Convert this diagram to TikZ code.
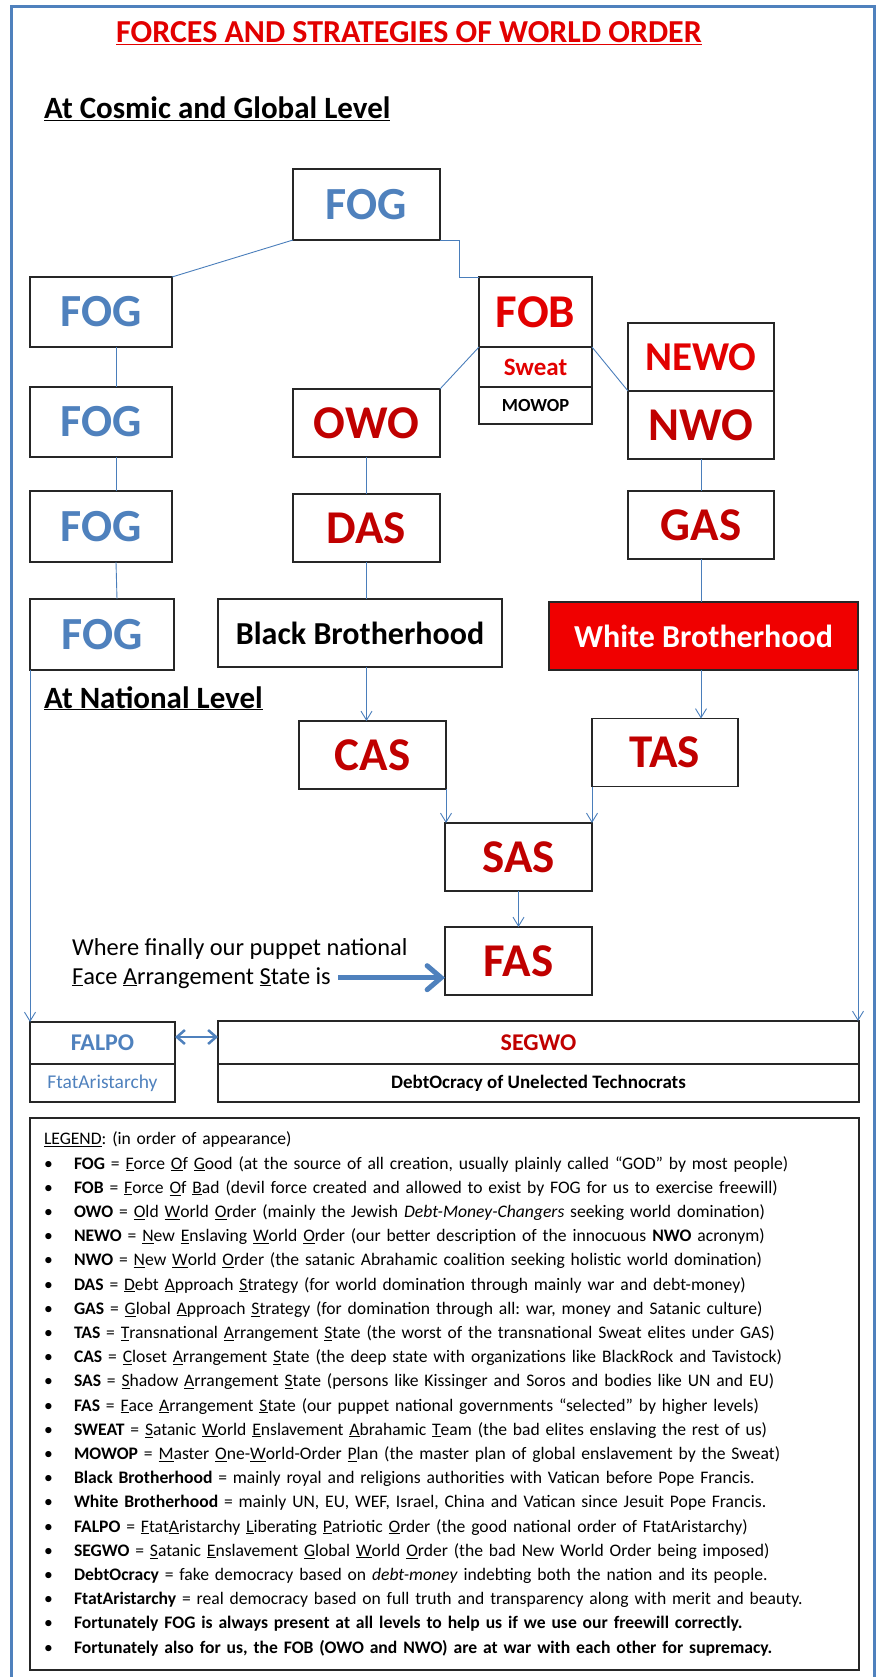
\documentclass[tikz,border=0pt]{standalone}
\usepackage{fontspec}
\setmainfont{Carlito}
\usepackage{tikz}
\usetikzlibrary{arrows.meta, positioning}

\definecolor{fogblue}{RGB}{79,129,189}
\definecolor{linkblue}{RGB}{74,126,187}
\definecolor{fobred}{RGB}{226,0,0}
\definecolor{owored}{RGB}{192,0,0}
\definecolor{wbred}{RGB}{240,0,0}

\newcommand{\legitem}{\makebox[30pt][l]{\textbullet}}

\begin{document}
\begin{tikzpicture}[
    x=1pt, y=-1pt,
    node distance=104pt,
    box/.style={rectangle, draw=black!85, line width=1.2pt, outer sep=0pt, inner sep=0pt, text centered, minimum width=147pt, minimum height=68pt, font=\bfseries\fontsize{47}{47}\selectfont},
    good/.style={box, text=fogblue, font=\bfseries\fontsize{46}{46}\selectfont},
    bad/.style={box, text=owored},
    worse/.style={box, text=fobred},
    acro/.style={font=\bfseries\fontsize{41}{41}\selectfont},
    brother/.style={box, font=\bfseries\fontsize{32}{32}\selectfont},
    stack/.style={box, minimum width=113pt},
    national/.style={box, minimum height=42pt, font=\bfseries\fontsize{24}{24}\selectfont},
    sub/.style={box, minimum height=38pt, font=\fontsize{19.5}{19.5}\selectfont},
    titletext/.style={anchor=base, inner sep=0pt, text=fobred, font=\bfseries\fontsize{32}{32}\selectfont},
    heading/.style={anchor=base west, inner sep=0pt, font=\bfseries\fontsize{31}{31}\selectfont},
    note/.style={anchor=base west, inner sep=0pt, font=\fontsize{24.4}{24.4}\selectfont},
    link/.style={draw=linkblue, line width=0.9pt},
    arrow/.style={link, -{Straight Barb[length=9pt, width=11pt]}},
    bigarrow/.style={draw=fogblue, line width=5pt, shorten <=7pt, -{Straight Barb[length=14pt, width=24pt, line cap=round]}},
    bothways/.style={draw=fogblue, line width=2.5pt, {Straight Barb[length=8pt, width=14pt]}-{Straight Barb[length=8pt, width=14pt]}},
    legendbox/.style={draw=black!85, line width=1.5pt, outer sep=0pt, text width=801pt, inner xsep=14pt, inner ysep=14pt, align=left, font=\fontsize{17.6}{24.2}\selectfont\frenchspacing}
]
\useasboundingbox (0,0) rectangle (876,1677);
\draw [draw=fogblue, line width=3pt] (11,1690) -- (11,7) -- (874,7) -- (874,1690);

% Nodes
\node (title) [titletext] at (409,43) {\underline{FORCES AND STRATEGIES OF WORLD ORDER}};
\node (cosmic) [heading] at (44,119) {\underline{At Cosmic and Global Level}};
\node (fogtop) [good, minimum height=71pt] at (366.5,204.5) {FOG};
\node (fog1) [good, minimum width=142pt, minimum height=70pt, below of=fogtop, xshift=-265.5pt, yshift=-3.5pt] {FOG};
\node (fog2) [good, minimum width=142pt, minimum height=70pt, below of=fog1, yshift=-6pt] {FOG};
\node (fog3) [good, minimum width=142pt, minimum height=71pt, below of=fog2, yshift=-0.5pt] {FOG};
\node (fog4) [good, minimum width=144pt, minimum height=71pt, below of=fog3, xshift=1pt, yshift=-4pt] {FOG};
\node (fob) [worse, stack, minimum height=70pt, below of=fogtop, xshift=169pt, yshift=-3.5pt] {FOB};
\node (sweat) [stack, text=fobred, minimum height=40pt, font=\bfseries\fontsize{25}{25}\selectfont, below=0pt of fob] {Sweat};
\node (mowop) [stack, minimum height=37pt, font=\bfseries\fontsize{18.5}{18.5}\selectfont, below=0pt of sweat] {MOWOP};
\node (newo) [worse, acro, minimum width=146pt, right of=fob, xshift=61.5pt, yshift=-45pt] {NEWO};
\node (nwo) [bad, minimum width=146pt, below=0pt of newo] {NWO};
\node (owo) [bad, below of=fogtop, yshift=-114.5pt] {OWO};
\node (das) [bad, below of=owo, yshift=-1pt] {DAS};
\node (bb) [brother, minimum width=284pt, below of=das, xshift=-6.5pt, yshift=-1pt] {Black Brotherhood};
\node (gas) [bad, minimum width=146pt, below of=nwo, yshift=4pt] {GAS};
\node (wb) [brother, fill=wbred, text=white, minimum width=309pt, below of=gas, xshift=2.5pt, yshift=-7pt] {White Brotherhood};
\node (national) [heading] at (44,708) {\underline{At National Level}};
\node (cas) [bad, below of=bb, xshift=12.5pt, yshift=-18pt] {CAS};
\node (tas) [bad, minimum width=146pt, below of=wb, xshift=-38.5pt, yshift=-12.5pt] {TAS};
\node (sas) [bad, below of=cas, xshift=146pt, yshift=2pt] {SAS};
\node (fas) [bad, below of=sas] {FAS};
\node (where) [note] at (72,955) {Where finally our puppet national};
\node (face) [note] at (72,984) {\underline{F}ace \underline{A}rrangement \underline{S}tate is};
\node (falpo) [national, text=fogblue, minimum width=145pt, below of=fog4, xshift=0.5pt, yshift=-304.5pt] {FALPO};
\node (ftat) [sub, text=fogblue, minimum width=145pt, below=0pt of falpo] {FtatAristarchy};
\node (segwo) [national, text=owored, minimum width=641pt, minimum height=43pt, right of=falpo, xshift=332pt, yshift=0.5pt] {SEGWO};
\node (debt) [sub, minimum width=641pt, font=\bfseries\fontsize{19}{19}\selectfont, below=0pt of segwo] {DebtOcracy of Unelected Technocrats};
\node (legend) [legendbox, below=16pt of ftat.south west, anchor=north west] {%
\underline{LEGEND}: (in order of appearance)\\
\legitem\textbf{FOG} = \underline{F}orce \underline{O}f \underline{G}ood (at the source of all creation, usually plainly called “GOD” by most people)\\
\legitem\textbf{FOB} = \underline{F}orce \underline{O}f \underline{B}ad (devil force created and allowed to exist by FOG for us to exercise freewill)\\
\legitem\textbf{OWO} = \underline{O}ld \underline{W}orld \underline{O}rder (mainly the Jewish \textit{Debt-Money-Changers} seeking world domination)\\
\legitem\textbf{NEWO} = \underline{N}ew \underline{E}nslaving \underline{W}orld \underline{O}rder (our better description of the innocuous \textbf{NWO} acronym)\\
\legitem\textbf{NWO} = \underline{N}ew \underline{W}orld \underline{O}rder (the satanic Abrahamic coalition seeking holistic world domination)\\
\legitem\textbf{DAS} = \underline{D}ebt \underline{A}pproach \underline{S}trategy (for world domination through mainly war and debt-money)\\
\legitem\textbf{GAS} = \underline{G}lobal \underline{A}pproach \underline{S}trategy (for domination through all: war, money and Satanic culture)\\
\legitem\textbf{TAS} = \underline{T}ransnational \underline{A}rrangement \underline{S}tate (the worst of the transnational Sweat elites under GAS)\\
\legitem\textbf{CAS} = \underline{C}loset \underline{A}rrangement \underline{S}tate (the deep state with organizations like BlackRock and Tavistock)\\
\legitem\textbf{SAS} = \underline{S}hadow \underline{A}rrangement \underline{S}tate (persons like Kissinger and Soros and bodies like UN and EU)\\
\legitem\textbf{FAS} = \underline{F}ace \underline{A}rrangement \underline{S}tate (our puppet national governments “selected” by higher levels)\\
\legitem\textbf{SWEAT} = \underline{S}atanic \underline{W}orld \underline{E}nslavement \underline{A}brahamic \underline{T}eam (the bad elites enslaving the rest of us)\\
\legitem\textbf{MOWOP} = \underline{M}aster \underline{O}ne-\underline{W}orld-Order \underline{P}lan (the master plan of global enslavement by the Sweat)\\
\legitem\textbf{Black Brotherhood} = mainly royal and religions authorities with Vatican before Pope Francis.\\
\legitem\textbf{White Brotherhood} = mainly UN, EU, WEF, Israel, China and Vatican since Jesuit Pope Francis.\\
\legitem\textbf{FALPO} = \underline{F}tat\underline{A}ristarchy \underline{L}iberating \underline{P}atriotic \underline{O}rder (the good national order of FtatAristarchy)\\
\legitem\textbf{SEGWO} = \underline{S}atanic \underline{E}nslavement \underline{G}lobal \underline{W}orld \underline{O}rder (the bad New World Order being imposed)\\
\legitem\textbf{DebtOcracy} = fake democracy based on \textit{debt-money} indebting both the nation and its people.\\
\legitem\textbf{FtatAristarchy} = real democracy based on full truth and transparency along with merit and beauty.\\
\legitem\textbf{Fortunately FOG is always present at all levels to help us if we use our freewill correctly.}\\
\legitem\textbf{Fortunately also for us, the FOB (OWO and NWO) are at war with each other for supremacy.}};

% Connectors
\draw [link] (fogtop.south west) -- (fog1.north east);
\draw [link] (fogtop.south east) -- ++(19,0) |- (fob.north west);
\draw [link] ([xshift=15pt]fog1.south) -- ([xshift=15pt]fog2.north);
\draw [link] ([xshift=15pt]fog2.south) -- ([xshift=15pt]fog3.north);
\draw [link] ([xshift=15pt]fog3.south) -- ([xshift=15pt]fog4.north);
\draw [link] (sweat.north west) -- (owo.north east);
\draw [link] (sweat.north east) -- (nwo.north west);
\draw [link] (owo) -- (das);
\draw [link] (das.south) -- (das.south |- bb.north);
\draw [link] (nwo) -- (gas);
\draw [link] (gas.south) -- (gas.south |- wb.north);
\draw [arrow] (bb.south -| das.south) -- (das.south |- cas.north);
\draw [arrow] (wb.south -| gas.south) -- (gas.south |- tas.north);
\draw [arrow] (cas.south east) -- (cas.south east |- sas.north);
\draw [arrow] (tas.south west) -- (tas.south west |- sas.north);
\draw [arrow] (sas) -- (fas);
\draw [arrow] (fog4.south west) -- (fog4.south west |- falpo.north);
\draw [arrow] (wb.south east) -- (wb.south east |- segwo.north);
\draw [bigarrow] (face.east) -- (face.east -| fas.west);
\draw [bothways] ([yshift=6pt]falpo.east) -- ([yshift=6pt]falpo.east -| segwo.west);

\end{tikzpicture}
\end{document}
